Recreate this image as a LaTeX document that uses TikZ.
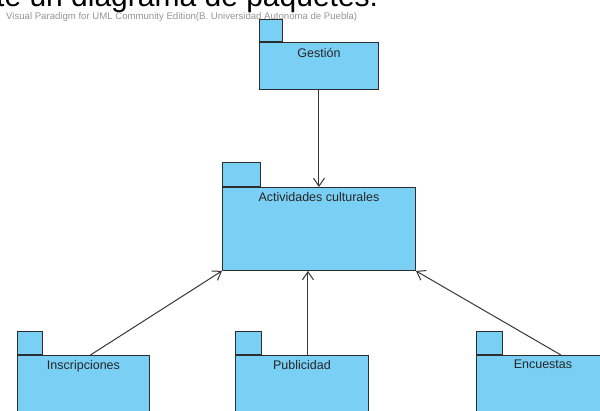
\documentclass[tikz,border=0pt]{standalone}
\usepackage{fontspec}
\setmainfont{Liberation Sans}
\usetikzlibrary{arrows.meta}
\definecolor{pkgfill}{RGB}{122,207,245}
\definecolor{pkgline}{RGB}{45,45,45}
\definecolor{wmark}{RGB}{150,150,150}
\definecolor{conn}{RGB}{55,55,55}
\tikzset{
  pkgbody/.style={draw=pkgline, fill=pkgfill, line width=0.9pt, inner sep=0pt, anchor=north west},
  pkgtab/.style={draw=pkgline, fill=pkgfill, line width=0.9pt, inner sep=0pt, anchor=south west, minimum height=23pt},
  pkgname/.style={anchor=north, inner sep=0pt, font=\fontsize{12.5}{14}\selectfont, text=black!85},
  dep/.style={draw=conn, line width=1pt, -{Straight Barb[length=8pt,width=11pt,line width=1pt]}},
}
\begin{document}
\begin{tikzpicture}[x=1pt,y=-1pt]
\useasboundingbox (0,0) rectangle (600,410);
\fill[white] (0,0) rectangle (600,410);

% heading line, mostly above the page
\node[anchor=base west, inner sep=0pt, font=\fontsize{30}{34}\selectfont] (heading) at (-4,6) {te un diagrama de paquetes.};

% Gestión
\node[pkgtab, minimum width=23pt, minimum height=22pt] (gestiontab) at (259,42) {};
\node[pkgbody, minimum width=119pt, minimum height=47pt] (gestion) at (259,42) {};
\node[pkgname] (gestionlbl) at ([yshift=-6pt]gestion.north) {Gestión};

% Actividades culturales
\node[pkgtab, minimum width=38pt, minimum height=24pt] (acttab) at (222,187) {};
\node[pkgbody, minimum width=193pt, minimum height=83pt] (actividades) at (222,187) {};
\node[pkgname] (actlbl) at ([yshift=-5pt]actividades.north) {Actividades culturales};

% Inscripciones
\node[pkgtab, minimum width=25pt] (instab) at (17,355) {};
\node[pkgbody, minimum width=132pt, minimum height=80pt] (inscripciones) at (17,355) {};
\node[pkgname] (inslbl) at ([yshift=-5pt]inscripciones.north) {Inscripciones};

% Publicidad
\node[pkgtab, minimum width=26pt] (pubtab) at (235,355) {};
\node[pkgbody, minimum width=133pt, minimum height=80pt] (publicidad) at (235,355) {};
\node[pkgname] (publbl) at ([yshift=-5pt]publicidad.north) {Publicidad};

% Encuestas
\node[pkgtab, minimum width=26pt] (enctab) at (476,355) {};
\node[pkgbody, minimum width=133pt, minimum height=80pt] (encuestas) at (476,355) {};
\node[pkgname] (enclbl) at ([yshift=-5pt]encuestas.north) {Encuestas};

% dependencies
\coordinate (insstart) at ([xshift=7pt]inscripciones.north);
\coordinate (pubstart) at ([xshift=6pt]publicidad.north);
\coordinate (encstart) at ([xshift=18pt]encuestas.north);
\draw[dep] (gestion.south) -- (actividades.north);
\draw[dep] (insstart) -- (actividades.south west);
\draw[dep] (pubstart) -- (pubstart |- actividades.south);
\draw[dep] (encstart) -- (actividades.south east);

% watermark
\node[anchor=west, inner sep=0pt, text=wmark, font=\fontsize{9.6}{11}\selectfont] (wm) at (6,17) {Visual Paradigm for UML Community Edition(B. Universidad Autonoma de Puebla)};
\end{tikzpicture}
\end{document}
